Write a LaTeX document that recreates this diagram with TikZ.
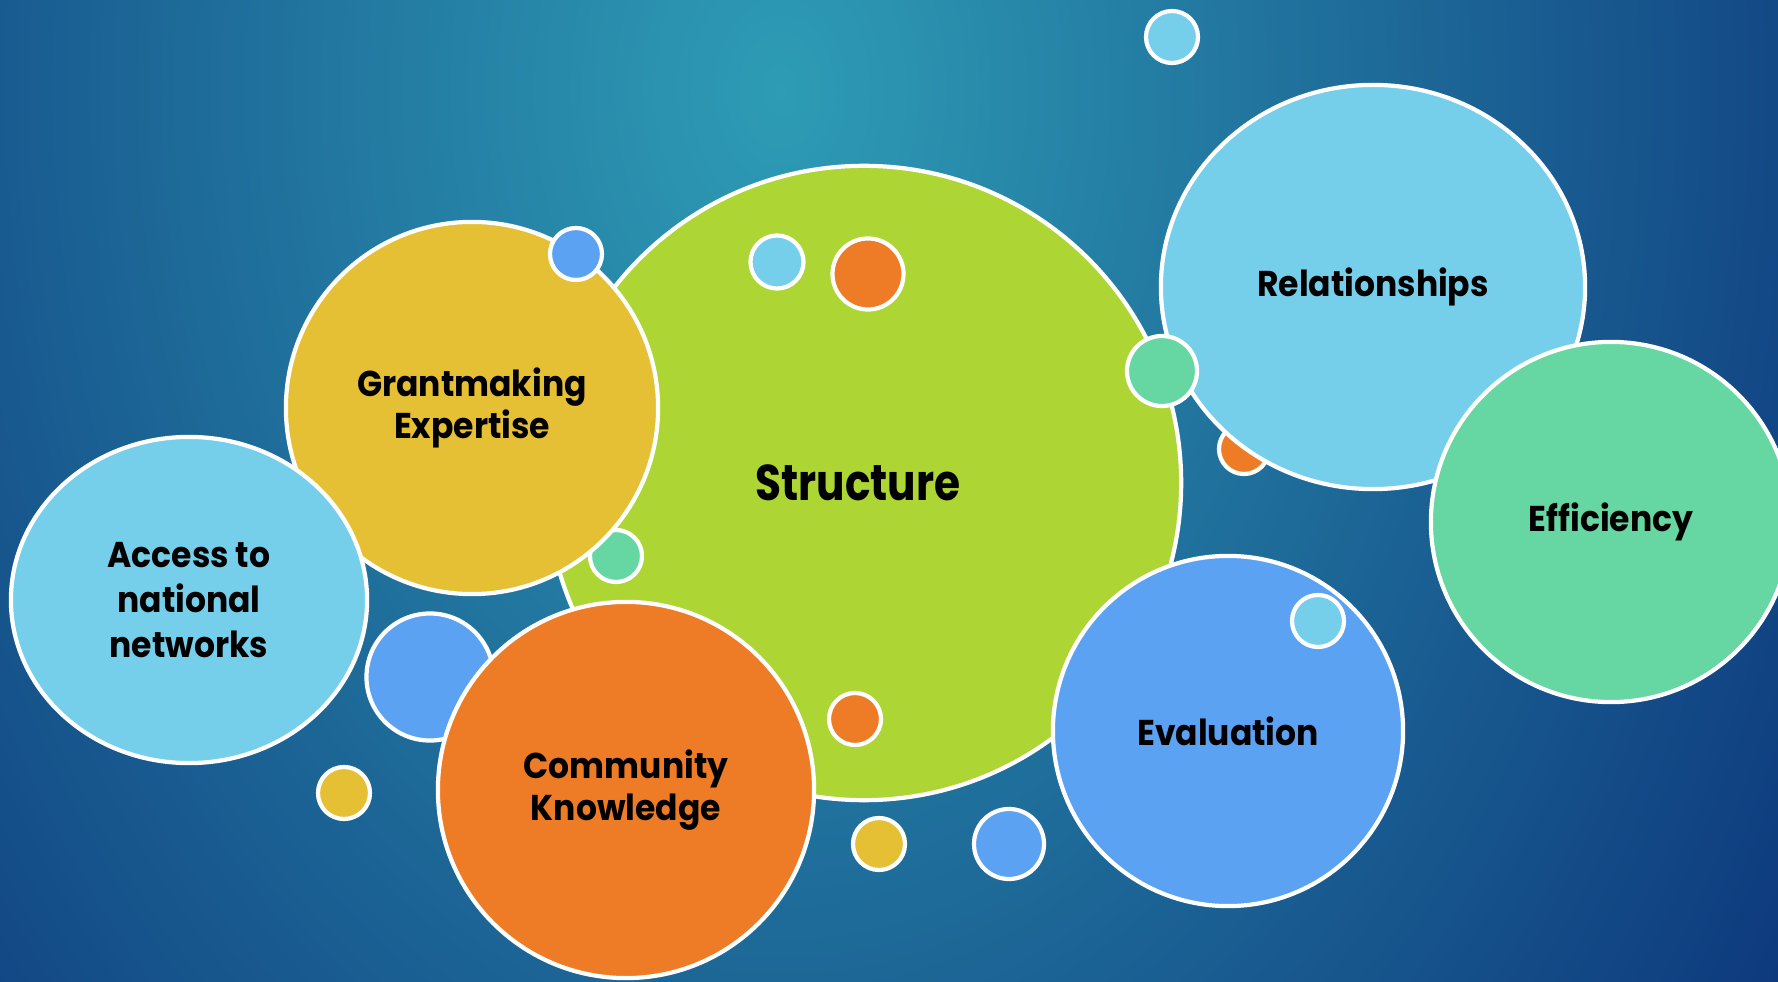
\documentclass[tikz,border=0pt]{standalone}
\usepackage{fontspec}
\setmainfont{Poppins}
\newfontfamily\labelfont{Poppins}[FakeStretch=0.92]
\newfontfamily\bigfont{Poppins}[FakeStretch=0.84]
\usetikzlibrary{shapes.geometric}
\definecolor{bggreen}{RGB}{173,213,51}
\definecolor{bgyellow}{RGB}{229,192,53}
\definecolor{bglight}{RGB}{117,207,235}
\definecolor{bgorange}{RGB}{238,123,37}
\definecolor{bgblue}{RGB}{91,162,243}
\definecolor{bgteal}{RGB}{102,214,162}
\definecolor{bgtop}{RGB}{46,156,181}
\definecolor{bgedge}{RGB}{12,52,122}
\tikzstyle{bubble} = [draw=white, circle, line width=1.2pt, inner sep=0pt, align=center, font=\labelfont\bfseries\fontsize{10.2}{12}\selectfont]
\tikzstyle{dot} = [draw=white, circle, line width=1.2pt, inner sep=0pt]

\begin{document}
\begin{tikzpicture}[x=0.01cm, y=-0.01cm]
        % background
        \clip (0,0) rectangle (1778,982);
        \fill[bgedge] (0,0) rectangle (1778,982);
        \shade[inner color=bgtop, outer color=bgedge, shading=radial] (780,90) ellipse (1250 and 1750);
        \useasboundingbox (0,0) rectangle (1778,982);
        % behind the right bubbles
        \node[dot, fill=bgorange, minimum size=0.50cm] (d1) at (1244,449) {};
        \node[bubble, ellipse, fill=bglight, minimum width=4.24cm, minimum height=4.04cm] (relations) at (1373,287) {Relationships};
        \node[bubble, fill=bgteal, minimum size=3.60cm] (efficiency) at (1611,522) {Efficiency};
        \node[dot, fill=bglight, minimum size=0.52cm] (d2) at (1172,37) {};
        % middle
        \node[bubble, fill=bggreen, minimum size=6.34cm] (structure) at (864,483) {};
        \node[dot, fill=bgteal, minimum size=0.52cm] (d3) at (616,556) {};
        \node[bubble, fill=bgyellow, minimum size=3.72cm] (grant) at (472,408) {Grantmaking\\Expertise};
        \node[bubble, ellipse, fill=bglight, minimum width=3.56cm, minimum height=3.26cm, font=\labelfont\bfseries\fontsize{10.2}{12.7}\selectfont] (access) at (189,600) {Access to\\national\\networks};
        \node[dot, fill=bgblue, minimum size=1.27cm] (d4) at (430,677) {};
        \node[bubble, fill=bgorange, minimum size=3.76cm] (community) at (626,790) {Community\\Knowledge};
        \node[bubble, fill=bgblue, minimum size=3.50cm] (evaluation) at (1228,731) {Evaluation};
        \node[font=\bigfont\bfseries\fontsize{14.3}{16}\selectfont] (structlabel) at (858,483) {Structure};
        % small dots
        \node[dot, fill=bgblue, minimum size=0.52cm] (d5) at (576,254) {};
        \node[dot, fill=bglight, minimum size=0.53cm] (d6) at (777,262) {};
        \node[dot, fill=bgorange, minimum size=0.71cm] (d7) at (868,274) {};
        \node[dot, fill=bgteal, minimum size=0.70cm] (d8) at (1162,371) {};
        \node[dot, fill=bglight, minimum size=0.52cm] (d9) at (1318,621) {};
        \node[dot, fill=bgorange, minimum size=0.52cm] (d10) at (855,719) {};
        \node[dot, fill=bgyellow, minimum size=0.52cm] (d11) at (344,793) {};
        \node[dot, fill=bgyellow, minimum size=0.52cm] (d12) at (879,844) {};
        \node[dot, fill=bgblue, minimum size=0.70cm] (d13) at (1009,844) {};
    \end{tikzpicture}
\end{document}
